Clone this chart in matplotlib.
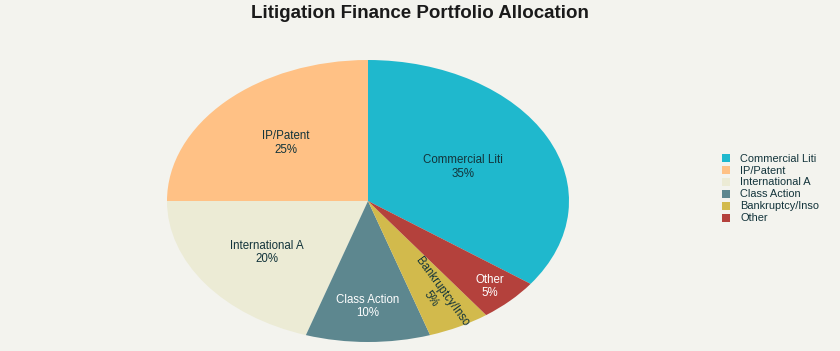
import matplotlib.pyplot as plt
import numpy as np

categories = ['Commercial Liti', 'IP/Patent', 'International A',
              'Class Action', 'Bankruptcy/Inso', 'Other']
shares = [35, 25, 20, 10, 5, 5]
colors = ['#1FB8CD', '#FFC185', '#ECEBD5', '#5D878F', '#D2BA4C', '#B4413C']
text_colors = ['#13343B', '#13343B', '#13343B', 'white', '#13343B', 'white']
label_radius = [0.53, 0.58, 0.62, 0.75, 0.75, 0.86]

bg = '#F3F3EE'
plt.rcParams['font.family'] = ['Liberation Sans', 'DejaVu Sans']

fig = plt.figure(figsize=(8.4, 3.51), dpi=100, facecolor=bg)
ax = fig.add_axes([167 / 840, 9 / 351, 402 / 840, 282 / 351])
ax.set_facecolor(bg)

wedges, _ = ax.pie(shares, colors=colors, startangle=-36, counterclock=True,
                   wedgeprops=dict(linewidth=0))
ax.set_aspect('auto')
ax.set_xlim(-1, 1)
ax.set_ylim(-1, 1)

for w, cat, val, tc, r in zip(wedges, categories, shares, text_colors, label_radius):
    mid = np.deg2rad((w.theta1 + w.theta2) / 2)
    x, y = r * np.cos(mid), r * np.sin(mid)
    rot = 0
    if cat.startswith('Bankruptcy'):
        rot = -54
    ax.text(x, y, f'{cat}\n{val}%', ha='center', va='center', fontsize=8.3,
            color=tc, rotation=rot, linespacing=1.15)

fig.text(0.5, 0.962, 'Litigation Finance Portfolio Allocation', ha='center',
         va='center', fontsize=13.5, fontweight='bold', color='#1a1a1a')

fig.legend(wedges, categories, loc='center left', bbox_to_anchor=(0.848, 0.463),
           frameon=False, fontsize=7.9, handlelength=0.75, handleheight=0.75,
           handletextpad=0.9, labelspacing=0.18, labelcolor='#13343B')

fig.savefig('out.png', dpi=100, facecolor=bg)
